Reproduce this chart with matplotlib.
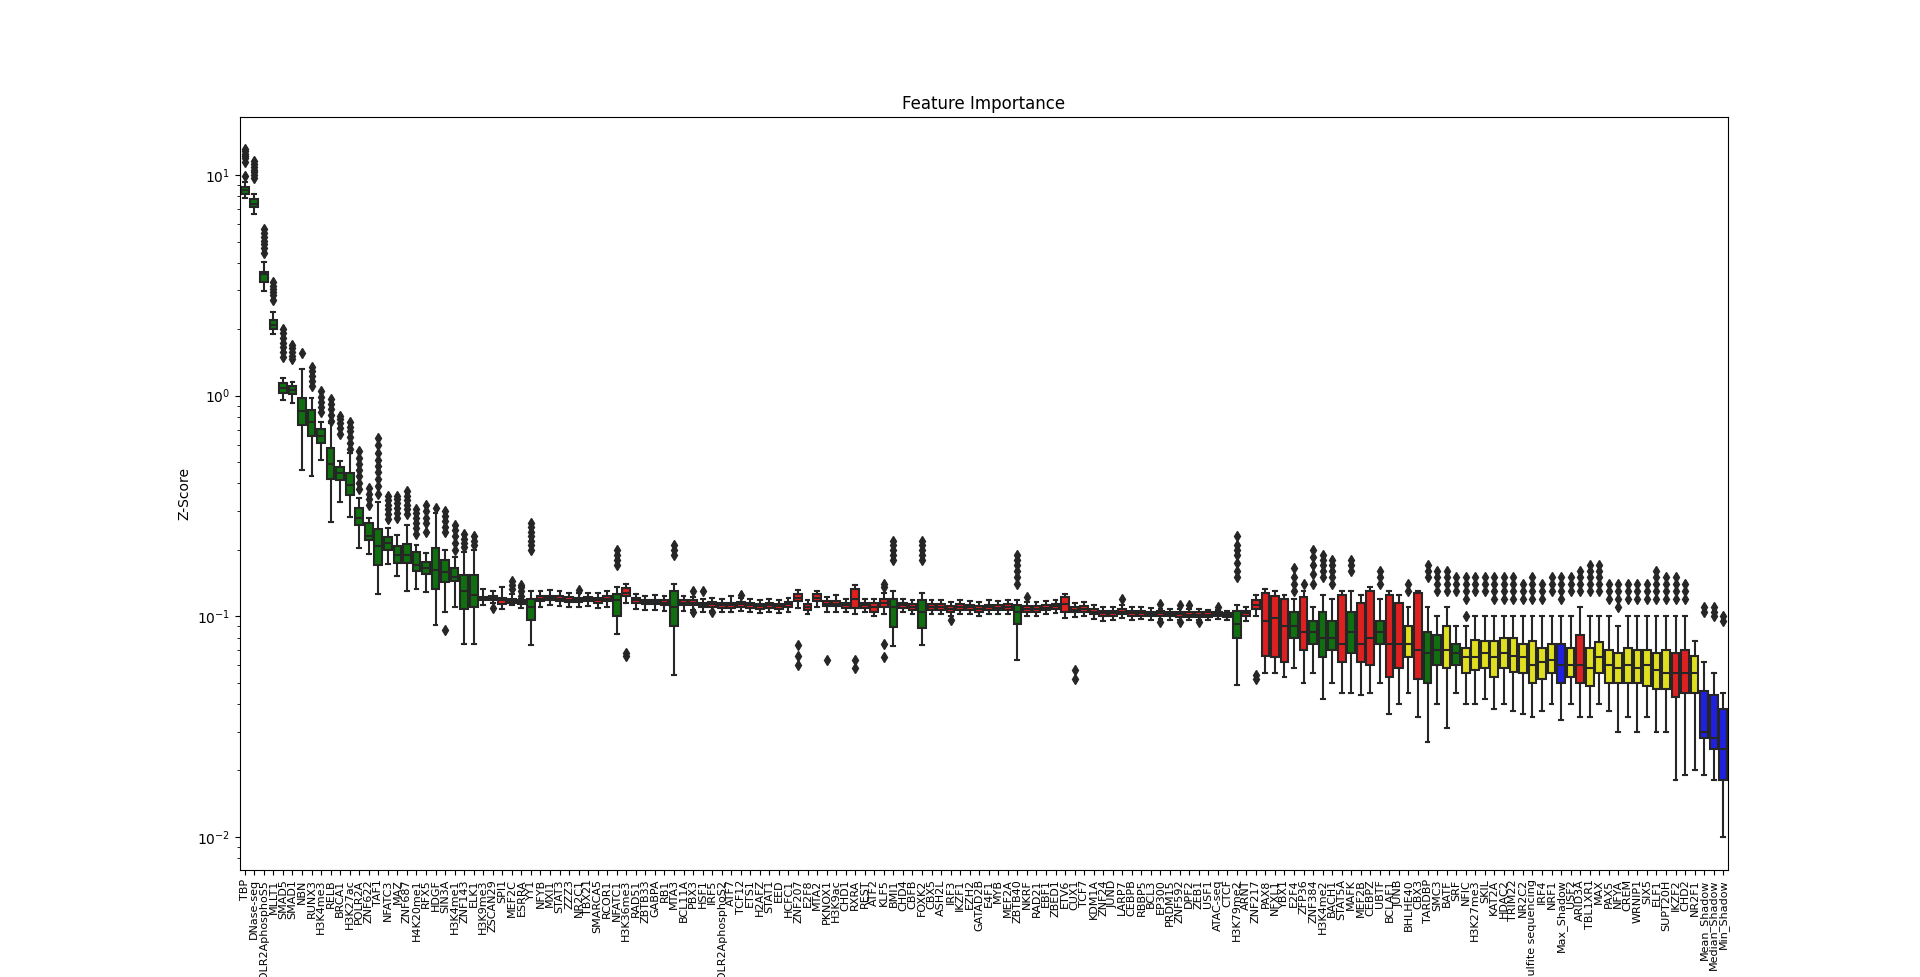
import matplotlib
matplotlib.use("Agg")
import matplotlib.pyplot as plt
import colorsys
from matplotlib.colors import to_rgb

labels = ["TBP", "DNase-seq", "POLR2AphosphoS5", "MLLT1", "SMAD5", "SMAD1", "NBN", "RUNX3", "H3K4me3", "RELB",
          "BRCA1", "H3K27ac", "POLR2A", "ZNF622", "TAF1", "NFATC3", "MAZ", "ZNF687", "H4K20me1", "RFX5",
          "HDGF", "SIN3A", "H3K4me1", "ZNF143", "ELK1", "H3K9me3", "ZSCAN29", "SPI1", "MEF2C", "ESRRA",
          "YY1", "NFYB", "MXI1", "STAT3", "ZZZ3", "NR2C1", "TBX21", "SMARCA5", "RCOR1", "NFATC1",
          "H3K36me3", "RAD51", "ZBTB33", "GABPA", "RB1", "MTA3", "BCL11A", "PBX3", "HSF1", "IRF5",
          "POLR2AphosphoS2", "ATF7", "TCF12", "ETS1", "H2AFZ", "STAT1", "EED", "HCFC1", "ZNF207", "E2F8",
          "MTA2", "PKNOX1", "H3K9ac", "CHD1", "RXRA", "REST", "ATF2", "KLF5", "BMI1", "CHD4",
          "CBFB", "FOXK2", "CBX5", "ASH2L", "IRF3", "IKZF1", "EZH2", "GATAD2B", "E4F1", "MYB",
          "MEF2A", "ZBTB40", "NKRF", "RAD21", "EBF1", "ZBED1", "ETV6", "CUX1", "TCF7", "KDM1A",
          "ZNF24", "JUND", "LARP7", "CEBPB", "RBBP5", "BCL3", "EP300", "PRDM15", "ZNF592", "DPF2",
          "ZEB1", "USF1", "ATAC-seq", "CTCF", "H3K79me2", "ARNT", "ZNF217", "PAX8", "NFXL1", "YBX1",
          "E2F4", "ZFP36", "ZNF384", "H3K4me2", "BACH1", "STAT5A", "MAFK", "MEF2B", "CEBPZ", "UBTF",
          "BCLAF1", "JUNB", "BHLHE40", "CBX3", "TARDBP", "SMC3", "BATF", "SRF", "NFIC", "H3K27me3",
          "SKIL", "KAT2A", "HDAC2", "TRIM22", "NR2C2", "Bisulfite sequencing", "IRF4", "NRF1", "Max_Shadow", "USF2",
          "ARID3A", "TBL1XR1", "MAX", "PAX5", "NFYA", "CREM", "WRNIP1", "SIX5", "ELF1", "SUPT20H",
          "IKZF2", "CHD2", "NR2F1", "Mean_Shadow", "Median_Shadow", "Min_Shadow"]

# g = confirmed (green), r = rejected (red), y = tentative (yellow), b = shadow (blue)
status = ("g" * 25 + "r" * 5 + "g" + "r" * 8 + "g" + "r" * 5 + "g" + "r" * 22 + "g" + "rr" + "g"
          + "r" * 9 + "g" + "r" * 22 + "g" + "r" * 5 + "g" + "r" + "ggg" + "r" + "g" + "rr" + "g" + "rr"
          + "y" + "r" + "gg" + "y" + "g" + "y" * 10 + "b" + "y" + "r" + "y" * 9 + "rr" + "y" + "bbb")

q1 = [8.2, 7.15, 3.26, 2.0, 1.03, 1.018, 0.738, 0.658, 0.609, 0.418,
      0.415, 0.354, 0.259, 0.221, 0.170, 0.200, 0.174, 0.174, 0.161, 0.155,
      0.133, 0.143, 0.144, 0.108, 0.11, 0.1185, 0.118, 0.114, 0.115, 0.113,
      0.096, 0.117, 0.118, 0.117, 0.116, 0.116, 0.117, 0.115, 0.117, 0.100,
      0.123, 0.115, 0.113, 0.113, 0.112, 0.090, 0.112, 0.112, 0.110, 0.110,
      0.109, 0.109, 0.110, 0.109, 0.108, 0.109, 0.108, 0.110, 0.117, 0.107,
      0.117, 0.111, 0.111, 0.109, 0.109, 0.109, 0.105, 0.110, 0.089, 0.109,
      0.107, 0.088, 0.107, 0.107, 0.105, 0.107, 0.107, 0.105, 0.107, 0.107,
      0.107, 0.092, 0.105, 0.105, 0.107, 0.108, 0.105, 0.104, 0.105, 0.102,
      0.100, 0.100, 0.102, 0.100, 0.100, 0.100, 0.100, 0.100, 0.099, 0.099,
      0.099, 0.099, 0.100, 0.099, 0.080, 0.100, 0.108, 0.066, 0.065, 0.062,
      0.080, 0.070, 0.075, 0.065, 0.070, 0.062, 0.068, 0.062, 0.060, 0.075,
      0.053, 0.058, 0.065, 0.052, 0.050, 0.060, 0.058, 0.060, 0.055, 0.057,
      0.058, 0.053, 0.058, 0.056, 0.055, 0.050, 0.052, 0.055, 0.050, 0.053,
      0.050, 0.048, 0.055, 0.050, 0.050, 0.050, 0.050, 0.048, 0.047, 0.047,
      0.043, 0.045, 0.045, 0.028, 0.025, 0.018]

med = [8.57, 7.38, 3.55, 2.10, 1.084, 1.06, 0.855, 0.756, 0.658, 0.489,
       0.445, 0.394, 0.279, 0.231, 0.2075, 0.215, 0.189, 0.189, 0.171, 0.1655,
       0.1625, 0.1586, 0.150, 0.130, 0.125, 0.121, 0.121, 0.118, 0.117, 0.116,
       0.110, 0.120, 0.121, 0.120, 0.119, 0.118, 0.120, 0.118, 0.120, 0.118,
       0.128, 0.118, 0.116, 0.116, 0.115, 0.110, 0.115, 0.115, 0.112, 0.113,
       0.112, 0.112, 0.113, 0.112, 0.111, 0.112, 0.111, 0.113, 0.121, 0.110,
       0.121, 0.114, 0.114, 0.112, 0.120, 0.112, 0.110, 0.115, 0.110, 0.112,
       0.110, 0.105, 0.110, 0.110, 0.108, 0.110, 0.110, 0.108, 0.110, 0.109,
       0.110, 0.105, 0.108, 0.108, 0.109, 0.111, 0.113, 0.107, 0.108, 0.105,
       0.103, 0.103, 0.105, 0.103, 0.103, 0.102, 0.103, 0.102, 0.102, 0.101,
       0.101, 0.101, 0.102, 0.101, 0.092, 0.103, 0.112, 0.095, 0.098, 0.090,
       0.090, 0.085, 0.085, 0.080, 0.080, 0.075, 0.085, 0.075, 0.080, 0.085,
       0.075, 0.075, 0.075, 0.070, 0.068, 0.070, 0.070, 0.068, 0.065, 0.065,
       0.068, 0.065, 0.068, 0.066, 0.065, 0.060, 0.062, 0.063, 0.060, 0.060,
       0.060, 0.058, 0.065, 0.060, 0.058, 0.060, 0.058, 0.060, 0.057, 0.055,
       0.055, 0.055, 0.055, 0.030, 0.028, 0.025]

q3 = [8.82, 7.83, 3.64, 2.21, 1.138, 1.107, 0.972, 0.861, 0.705, 0.578,
      0.477, 0.448, 0.308, 0.265, 0.249, 0.229, 0.2075, 0.213, 0.1955, 0.177,
      0.204, 0.180, 0.165, 0.153, 0.154, 0.1225, 0.124, 0.121, 0.120, 0.119,
      0.120, 0.123, 0.124, 0.123, 0.122, 0.121, 0.122, 0.121, 0.123, 0.126,
      0.134, 0.121, 0.119, 0.119, 0.118, 0.130, 0.118, 0.118, 0.115, 0.116,
      0.115, 0.115, 0.116, 0.115, 0.114, 0.115, 0.114, 0.116, 0.126, 0.113,
      0.126, 0.117, 0.117, 0.115, 0.133, 0.115, 0.115, 0.120, 0.120, 0.115,
      0.113, 0.118, 0.113, 0.113, 0.111, 0.113, 0.112, 0.111, 0.112, 0.112,
      0.113, 0.112, 0.111, 0.111, 0.112, 0.114, 0.122, 0.110, 0.111, 0.108,
      0.106, 0.106, 0.108, 0.106, 0.106, 0.105, 0.106, 0.105, 0.104, 0.104,
      0.104, 0.104, 0.104, 0.103, 0.106, 0.106, 0.118, 0.128, 0.124, 0.120,
      0.105, 0.122, 0.095, 0.105, 0.095, 0.125, 0.105, 0.115, 0.130, 0.095,
      0.125, 0.115, 0.090, 0.128, 0.085, 0.082, 0.090, 0.075, 0.072, 0.078,
      0.077, 0.077, 0.080, 0.080, 0.075, 0.077, 0.072, 0.075, 0.075, 0.072,
      0.082, 0.072, 0.076, 0.070, 0.068, 0.072, 0.070, 0.070, 0.068, 0.070,
      0.068, 0.070, 0.066, 0.046, 0.044, 0.038]

whislo = [7.91, 6.67, 2.98, 1.91, 0.952, 0.93, 0.459, 0.43, 0.511, 0.268,
          0.33, 0.282, 0.203, 0.191, 0.126, 0.172, 0.152, 0.1296, 0.133, 0.1286,
          0.091, 0.105, 0.110, 0.075, 0.075, 0.112, 0.115, 0.108, 0.112, 0.109,
          0.074, 0.110, 0.112, 0.111, 0.110, 0.110, 0.111, 0.109, 0.110, 0.083,
          0.115, 0.108, 0.107, 0.107, 0.106, 0.054, 0.106, 0.107, 0.105, 0.106,
          0.104, 0.104, 0.106, 0.104, 0.103, 0.105, 0.103, 0.105, 0.109, 0.102,
          0.110, 0.105, 0.105, 0.104, 0.102, 0.104, 0.100, 0.102, 0.073, 0.104,
          0.102, 0.074, 0.102, 0.102, 0.100, 0.102, 0.102, 0.100, 0.102, 0.102,
          0.102, 0.063, 0.100, 0.100, 0.102, 0.103, 0.098, 0.099, 0.100, 0.097,
          0.095, 0.096, 0.098, 0.096, 0.097, 0.096, 0.097, 0.096, 0.096, 0.096,
          0.096, 0.096, 0.097, 0.096, 0.049, 0.095, 0.100, 0.055, 0.055, 0.053,
          0.058, 0.050, 0.055, 0.042, 0.050, 0.045, 0.045, 0.044, 0.045, 0.050,
          0.036, 0.040, 0.045, 0.035, 0.027, 0.040, 0.031, 0.045, 0.040, 0.040,
          0.042, 0.038, 0.040, 0.037, 0.036, 0.035, 0.037, 0.040, 0.034, 0.040,
          0.035, 0.035, 0.040, 0.037, 0.030, 0.035, 0.030, 0.035, 0.030, 0.030,
          0.018, 0.019, 0.020, 0.019, 0.018, 0.010]

whishi = [9.35, 8.22, 4.03, 2.39, 1.20, 1.15, 1.32, 0.98, 0.756, 0.748,
          0.506, 0.548, 0.344, 0.280, 0.330, 0.251, 0.233, 0.259, 0.210, 0.1935,
          0.294, 0.200, 0.185, 0.195, 0.200, 0.1325, 0.130, 0.136, 0.126, 0.120,
          0.130, 0.130, 0.131, 0.130, 0.128, 0.127, 0.128, 0.127, 0.130, 0.135,
          0.140, 0.126, 0.124, 0.125, 0.124, 0.140, 0.123, 0.122, 0.120, 0.121,
          0.120, 0.124, 0.121, 0.120, 0.119, 0.120, 0.119, 0.121, 0.132, 0.118,
          0.130, 0.122, 0.125, 0.120, 0.138, 0.120, 0.120, 0.127, 0.130, 0.120,
          0.118, 0.128, 0.118, 0.118, 0.116, 0.118, 0.117, 0.116, 0.118, 0.117,
          0.118, 0.118, 0.116, 0.116, 0.117, 0.119, 0.126, 0.115, 0.116, 0.112,
          0.110, 0.110, 0.112, 0.110, 0.110, 0.109, 0.108, 0.108, 0.108, 0.108,
          0.108, 0.107, 0.107, 0.106, 0.112, 0.110, 0.125, 0.133, 0.130, 0.125,
          0.120, 0.130, 0.110, 0.125, 0.120, 0.130, 0.130, 0.125, 0.135, 0.120,
          0.130, 0.125, 0.110, 0.130, 0.110, 0.100, 0.110, 0.090, 0.090, 0.100,
          0.100, 0.100, 0.100, 0.100, 0.100, 0.100, 0.100, 0.100, 0.100, 0.100,
          0.110, 0.100, 0.100, 0.100, 0.090, 0.100, 0.100, 0.100, 0.100, 0.100,
          0.100, 0.100, 0.077, 0.062, 0.055, 0.045]

fliers = [[9.93, 11.5, 11.9, 12.2, 12.5, 12.8, 13.2], [9.7, 10.0, 10.3, 10.6, 10.9, 11.2, 11.6],
          [4.45, 4.65, 4.85, 5.05, 5.25, 5.45, 5.7], [2.72, 2.85, 2.95, 3.05, 3.15, 3.27],
          [1.5, 1.58, 1.66, 1.74, 1.82, 1.92, 2.0], [1.46, 1.52, 1.58, 1.64, 1.69], [1.56],
          [1.11, 1.17, 1.23, 1.29, 1.35], [0.84, 0.89, 0.94, 0.99, 1.05], [0.77, 0.82, 0.87, 0.92, 0.97],
          [0.67, 0.71, 0.75, 0.78, 0.81], [0.57, 0.61, 0.65, 0.69, 0.72, 0.76],
          [0.376, 0.4, 0.43, 0.46, 0.49, 0.52, 0.56], [0.32, 0.34, 0.36, 0.38],
          [0.357, 0.39, 0.42, 0.45, 0.48, 0.51, 0.55, 0.6, 0.645], [0.275, 0.29, 0.305, 0.32, 0.335, 0.35],
          [0.28, 0.295, 0.31, 0.325, 0.34, 0.35], [0.29, 0.305, 0.32, 0.335, 0.35, 0.37],
          [0.235, 0.25, 0.265, 0.28, 0.295, 0.306], [0.24, 0.265, 0.28, 0.3, 0.32],
          [0.31], [0.087, 0.24, 0.255, 0.27, 0.285, 0.3], [0.2, 0.215, 0.23, 0.245, 0.26],
          [0.205, 0.215, 0.225, 0.235], [0.21, 0.22, 0.23], [], [0.109], [], [0.133, 0.138, 0.144],
          [0.124, 0.13, 0.135, 0.139],
          [0.2, 0.21, 0.22, 0.23, 0.24, 0.255, 0.265], [], [], [], [], [0.132], [], [], [],
          [0.17, 0.18, 0.19, 0.2],
          [0.066, 0.068], [], [], [], [], [0.19, 0.2, 0.21], [], [0.13, 0.104], [0.13], [0.104],
          [], [], [0.125], [], [], [], [], [], [0.074, 0.066, 0.06], [],
          [], [0.063], [], [], [0.063, 0.058], [], [], [0.135, 0.14, 0.075, 0.065],
          [0.18, 0.19, 0.2, 0.21, 0.22], [],
          [], [0.18, 0.19, 0.2, 0.21, 0.22], [], [], [0.096], [], [], [], [], [],
          [], [0.14, 0.15, 0.16, 0.17, 0.18, 0.19], [0.122], [], [], [], [], [0.057, 0.052], [], [],
          [], [], [0.12], [], [], [], [0.094, 0.113], [], [0.112, 0.094], [0.112],
          [0.094], [], [0.11], [],
          [0.15, 0.16, 0.175, 0.19, 0.2, 0.21, 0.23], [], [0.054, 0.052], [], [], [],
          [0.13, 0.14, 0.15, 0.165], [0.14], [0.14, 0.155, 0.17, 0.185, 0.2],
          [0.15, 0.16, 0.17, 0.18, 0.19], [0.14, 0.15, 0.16, 0.17, 0.18], [],
          [0.16, 0.17, 0.18], [], [], [0.14, 0.15, 0.16],
          [], [], [0.13, 0.14], [], [0.15, 0.16, 0.17], [0.13, 0.14, 0.15, 0.16],
          [0.13, 0.14, 0.15, 0.16], [0.13, 0.14, 0.15], [0.1, 0.12, 0.13, 0.14, 0.15],
          [0.13, 0.14, 0.15],
          [0.13, 0.14, 0.15], [0.12, 0.13, 0.14, 0.15], [0.12, 0.13, 0.14, 0.15],
          [0.12, 0.13, 0.14, 0.15], [0.12, 0.13, 0.14], [0.12, 0.13, 0.14, 0.15],
          [0.12, 0.13, 0.14], [0.13, 0.14, 0.15], [0.12, 0.13, 0.14, 0.15], [0.13, 0.14, 0.15],
          [0.13, 0.14, 0.15, 0.16], [0.13, 0.14, 0.15, 0.16, 0.17], [0.13, 0.14, 0.15, 0.16, 0.17],
          [0.12, 0.13, 0.14], [0.11, 0.12, 0.13, 0.14], [0.12, 0.13, 0.14], [0.12, 0.13, 0.14],
          [0.12, 0.13, 0.14], [0.12, 0.13, 0.14, 0.15, 0.16], [0.12, 0.13, 0.14, 0.15],
          [0.12, 0.13, 0.14, 0.15], [0.12, 0.13, 0.14], [], [0.105, 0.11], [0.1, 0.105, 0.11],
          [0.095, 0.1]]

palette = {"g": "green", "r": "red", "y": "yellow", "b": "blue"}


def desaturate(color, prop=0.75):
    h, l, s = colorsys.rgb_to_hls(*to_rgb(color))
    return colorsys.hls_to_rgb(h, l, s * prop)


gray = (0.15, 0.15, 0.15)
stats = []
for i, lab in enumerate(labels):
    stats.append(dict(label=lab, q1=q1[i], med=med[i], q3=q3[i],
                      whislo=whislo[i], whishi=whishi[i], fliers=fliers[i]))

fig, ax = plt.subplots(figsize=(19.2, 9.77), dpi=100)
fig.subplots_adjust(left=0.125, right=0.9, bottom=0.11, top=0.88)
bp = ax.bxp(stats, positions=range(len(labels)), widths=0.8, patch_artist=True,
            boxprops=dict(edgecolor=gray, linewidth=1.5),
            medianprops=dict(color=gray, linewidth=1.5),
            whiskerprops=dict(color=gray, linewidth=1.5),
            capprops=dict(color=gray, linewidth=1.5),
            flierprops=dict(marker="d", markerfacecolor=gray, markeredgecolor=gray,
                            markersize=5, linestyle="none"))
for patch, st in zip(bp["boxes"], status):
    patch.set_facecolor(desaturate(palette[st]))

ax.set_yscale("log")
ax.set_ylim(0.0071, 18.3)
ax.set_xlim(-0.5, len(labels) - 0.5)
ax.set_xticks(range(len(labels)))
ax.set_xticklabels(labels, rotation=90, fontsize=8)
ax.set_ylabel("Z-Score")
ax.set_title("Feature Importance")
fig.savefig("out.png", dpi=100)
